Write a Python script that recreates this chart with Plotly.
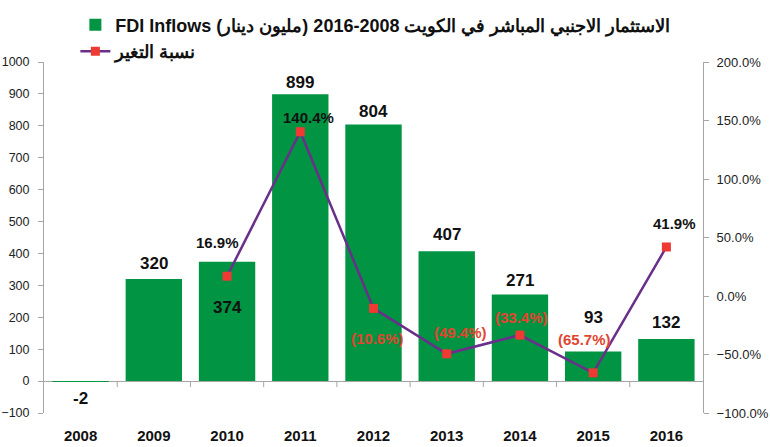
import plotly.graph_objects as go

years = [2008, 2009, 2010, 2011, 2012, 2013, 2014, 2015, 2016]
fdi_inflows = [-2, 320, 374, 899, 804, 407, 271, 93, 132]
pct_change = [None, None, 0.169, 1.404, -0.106, -0.494, -0.334, -0.657, 0.419]
year_labels = [str(y) for y in years]

bar_name = "FDI Inflows الاستثمار الاجنبي المباشر في الكويت 2008-2016 (مليون دينار)"
line_name = "نسبة التغير"

# label placement (pixel offsets), styling only
bar_label_shift = [-17, 15, -46, 12, 13, 17, 14, 34, 16]
pct_label_xshift = [0, 0, -10, 8, 4, 14, 2, -9, 8]
pct_label_yshift = [0, 0, 34, 14, -30, 21, 18, 33, 23]

GREEN = "#019442"
PURPLE = "#6a2f8a"
RED = "#ee3a33"
LABEL_RED = "#e2452f"
AXIS_GREY = "#a6a6a6"
FONT = "Liberation Sans, Arial, sans-serif"

fig = go.Figure()
fig.add_trace(go.Bar(
    x=years, y=fdi_inflows, name=bar_name, marker=dict(color=GREEN, line=dict(width=0)),
    yaxis="y", hoverinfo="skip"))
fig.add_trace(go.Scatter(
    x=years, y=pct_change, name=line_name, mode="lines+markers", yaxis="y2",
    line=dict(color=PURPLE, width=2.5),
    marker=dict(symbol="square", size=9, color=RED, line=dict(width=0)),
    hoverinfo="skip"))

annotations = []
for i, (yr, v) in enumerate(zip(years, fdi_inflows)):
    annotations.append(dict(
        x=yr, y=v, xref="x", yref="y", text=str(v), showarrow=False,
        yshift=bar_label_shift[i],
        font=dict(family=FONT, size=17, color="#111111", weight="bold")))
for i, (yr, p) in enumerate(zip(years, pct_change)):
    if p is None:
        continue
    txt = f"{p*100:.1f}%" if p >= 0 else f"({abs(p)*100:.1f}%)"
    col = "#111111" if p >= 0 else LABEL_RED
    annotations.append(dict(
        x=yr, y=p, xref="x", yref="y2", text=txt, showarrow=False,
        xshift=pct_label_xshift[i], yshift=pct_label_yshift[i],
        font=dict(family=FONT, size=15, color=col, weight="bold")))

# category-boundary tick marks on the zero line
shapes = []
for b in [y + 0.5 for y in years[:-1]]:
    shapes.append(dict(
        type="line", xref="x", yref="y", ysizemode="pixel", yanchor=0,
        x0=b, x1=b, y0=0, y1=-6, line=dict(color=AXIS_GREY, width=1)))

ymin, ymax = -100, 1000

fig.update_layout(
    width=770, height=447,
    margin=dict(l=44, r=67, t=62, b=34, autoexpand=False),
    paper_bgcolor="white", plot_bgcolor="white",
    bargap=0.23,
    showlegend=True,
    legend=dict(
        x=0.0476, y=1.158, xanchor="left", yanchor="top",
        orientation="v", traceorder="normal",
        font=dict(family=FONT, size=18, color="#111111", weight="bold"),
        bgcolor="rgba(0,0,0,0)"),
    xaxis=dict(
        type="linear", range=[years[0] - 0.5, years[-1] + 0.5],
        tickmode="array", tickvals=years, ticktext=year_labels,
        showline=False, ticks="", ticklabelstandoff=12,
        tickfont=dict(family="Liberation Sans Narrow, Arial Narrow, Liberation Sans, Arial",
                      size=15, color="#111111", weight="bold"),
        showgrid=False, zeroline=False),
    yaxis=dict(
        range=[ymin, ymax], dtick=100, tick0=0,
        showline=True, linecolor=AXIS_GREY, linewidth=1,
        ticks="outside", ticklen=5, tickcolor=AXIS_GREY, ticklabelstandoff=6,
        tickfont=dict(family=FONT, size=12.5, color="#222222"),
        showgrid=False, zeroline=True, zerolinecolor=AXIS_GREY, zerolinewidth=1),
    yaxis2=dict(
        range=[-1, 2], dtick=0.5, tick0=0, tickformat=".1%",
        overlaying="y", side="right",
        showline=True, linecolor=AXIS_GREY, linewidth=1,
        ticks="outside", ticklen=5, tickcolor=AXIS_GREY, ticklabelstandoff=5,
        tickfont=dict(family=FONT, size=13, color="#222222"),
        showgrid=False, zeroline=False),
    annotations=annotations,
    shapes=shapes,
)

fig.write_html("out.html")
